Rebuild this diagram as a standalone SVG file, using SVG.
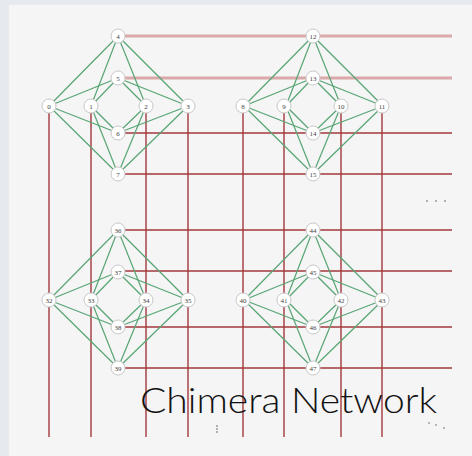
<svg xmlns="http://www.w3.org/2000/svg" width="472" height="456" viewBox="0 0 472 456">
<style>
.bg{fill:#e6e9ed}
.panel{fill:#f5f5f5}
.rl{stroke:#a3393c;stroke-width:1.4;fill:none}
.rp{stroke:#dba9a9;stroke-width:3;fill:none}
.g{stroke:#57a574;stroke-width:1.2;fill:none}
.n circle{fill:#ffffff;stroke:#c8c8c8;stroke-width:1}
.n text{font-family:'Liberation Serif',serif;font-size:7px;fill:#444;text-anchor:middle}
.title{font-family:Lato,'Open Sans',sans-serif;font-size:36px;font-weight:300;fill:#111}
.dot{fill:#999}
</style>
<defs>
<g id="k44">
<line class="g" x1="0" y1="0" x2="-69" y2="70"/>
<line class="g" x1="0" y1="0" x2="-27" y2="70"/>
<line class="g" x1="0" y1="0" x2="28" y2="70"/>
<line class="g" x1="0" y1="0" x2="70" y2="70"/>
<line class="g" x1="0" y1="42" x2="-69" y2="70"/>
<line class="g" x1="0" y1="42" x2="-27" y2="70"/>
<line class="g" x1="0" y1="42" x2="28" y2="70"/>
<line class="g" x1="0" y1="42" x2="70" y2="70"/>
<line class="g" x1="0" y1="97" x2="-69" y2="70"/>
<line class="g" x1="0" y1="97" x2="-27" y2="70"/>
<line class="g" x1="0" y1="97" x2="28" y2="70"/>
<line class="g" x1="0" y1="97" x2="70" y2="70"/>
<line class="g" x1="0" y1="138" x2="-69" y2="70"/>
<line class="g" x1="0" y1="138" x2="-27" y2="70"/>
<line class="g" x1="0" y1="138" x2="28" y2="70"/>
<line class="g" x1="0" y1="138" x2="70" y2="70"/>
</g>
</defs>
<rect class="bg" x="0" y="0" width="472" height="456"/>
<rect class="panel" x="9" y="5" width="463" height="451"/>
<g id="connectors">
<line class="rp" x1="125" y1="36" x2="452" y2="36"/>
<line class="rp" x1="125" y1="78" x2="452" y2="78"/>
<line class="rl" x1="125" y1="133" x2="452" y2="133"/>
<line class="rl" x1="125" y1="174" x2="452" y2="174"/>
<line class="rl" x1="125" y1="230" x2="452" y2="230"/>
<line class="rl" x1="125" y1="271" x2="452" y2="271"/>
<line class="rl" x1="125" y1="327" x2="452" y2="327"/>
<line class="rl" x1="125" y1="368" x2="452" y2="368"/>
<line class="rl" x1="49" y1="113" x2="49" y2="437"/>
<line class="rl" x1="91" y1="113" x2="91" y2="437"/>
<line class="rl" x1="146" y1="113" x2="146" y2="437"/>
<line class="rl" x1="188" y1="113" x2="188" y2="437"/>
<line class="rl" x1="243" y1="113" x2="243" y2="437"/>
<line class="rl" x1="284" y1="113" x2="284" y2="437"/>
<line class="rl" x1="341" y1="113" x2="341" y2="437"/>
<line class="rl" x1="382" y1="113" x2="382" y2="437"/>
<use href="#k44" x="118" y="36"/>
<use href="#k44" x="313" y="36"/>
<use href="#k44" x="118" y="230"/>
<use href="#k44" x="313" y="230"/>
</g>
<g id="n0" class="n"><circle cx="49" cy="106" r="7"/><text x="49" y="108.5">0</text></g>
<g id="n1" class="n"><circle cx="91" cy="106" r="7"/><text x="91" y="108.5">1</text></g>
<g id="n2" class="n"><circle cx="146" cy="106" r="7"/><text x="146" y="108.5">2</text></g>
<g id="n3" class="n"><circle cx="188" cy="106" r="7"/><text x="188" y="108.5">3</text></g>
<g id="n4" class="n"><circle cx="118" cy="36" r="7"/><text x="118" y="38.5">4</text></g>
<g id="n5" class="n"><circle cx="118" cy="78" r="7"/><text x="118" y="80.5">5</text></g>
<g id="n6" class="n"><circle cx="118" cy="133" r="7"/><text x="118" y="135.5">6</text></g>
<g id="n7" class="n"><circle cx="118" cy="174" r="7"/><text x="118" y="176.5">7</text></g>
<g id="n8" class="n"><circle cx="243" cy="106" r="7"/><text x="243" y="108.5">8</text></g>
<g id="n9" class="n"><circle cx="284" cy="106" r="7"/><text x="284" y="108.5">9</text></g>
<g id="n10" class="n"><circle cx="341" cy="106" r="7"/><text x="341" y="108.5">10</text></g>
<g id="n11" class="n"><circle cx="382" cy="106" r="7"/><text x="382" y="108.5">11</text></g>
<g id="n12" class="n"><circle cx="313" cy="36" r="7"/><text x="313" y="38.5">12</text></g>
<g id="n13" class="n"><circle cx="313" cy="78" r="7"/><text x="313" y="80.5">13</text></g>
<g id="n14" class="n"><circle cx="313" cy="133" r="7"/><text x="313" y="135.5">14</text></g>
<g id="n15" class="n"><circle cx="313" cy="174" r="7"/><text x="313" y="176.5">15</text></g>
<g id="n32" class="n"><circle cx="49" cy="300" r="7"/><text x="49" y="302.5">32</text></g>
<g id="n33" class="n"><circle cx="91" cy="300" r="7"/><text x="91" y="302.5">33</text></g>
<g id="n34" class="n"><circle cx="146" cy="300" r="7"/><text x="146" y="302.5">34</text></g>
<g id="n35" class="n"><circle cx="188" cy="300" r="7"/><text x="188" y="302.5">35</text></g>
<g id="n36" class="n"><circle cx="118" cy="230" r="7"/><text x="118" y="232.5">36</text></g>
<g id="n37" class="n"><circle cx="118" cy="272" r="7"/><text x="118" y="274.5">37</text></g>
<g id="n38" class="n"><circle cx="118" cy="327" r="7"/><text x="118" y="329.5">38</text></g>
<g id="n39" class="n"><circle cx="118" cy="368" r="7"/><text x="118" y="370.5">39</text></g>
<g id="n40" class="n"><circle cx="243" cy="300" r="7"/><text x="243" y="302.5">40</text></g>
<g id="n41" class="n"><circle cx="284" cy="300" r="7"/><text x="284" y="302.5">41</text></g>
<g id="n42" class="n"><circle cx="341" cy="300" r="7"/><text x="341" y="302.5">42</text></g>
<g id="n43" class="n"><circle cx="382" cy="300" r="7"/><text x="382" y="302.5">43</text></g>
<g id="n44" class="n"><circle cx="313" cy="230" r="7"/><text x="313" y="232.5">44</text></g>
<g id="n45" class="n"><circle cx="313" cy="272" r="7"/><text x="313" y="274.5">45</text></g>
<g id="n46" class="n"><circle cx="313" cy="327" r="7"/><text x="313" y="329.5">46</text></g>
<g id="n47" class="n"><circle cx="313" cy="368" r="7"/><text x="313" y="370.5">47</text></g>
<g id="dots">
<circle class="dot" cx="427" cy="201" r="1"/><circle class="dot" cx="436" cy="201" r="1"/><circle class="dot" cx="445" cy="201" r="1"/>
<circle class="dot" cx="217" cy="426" r="1"/><circle class="dot" cx="217" cy="429" r="1"/><circle class="dot" cx="217" cy="432" r="1"/>
<circle class="dot" cx="429" cy="423" r="0.9"/><circle class="dot" cx="436" cy="425" r="0.9"/><circle class="dot" cx="444" cy="428" r="0.9"/>
</g>
<text class="title" x="140" y="413" textLength="297" lengthAdjust="spacingAndGlyphs">Chimera Network</text>
</svg>
